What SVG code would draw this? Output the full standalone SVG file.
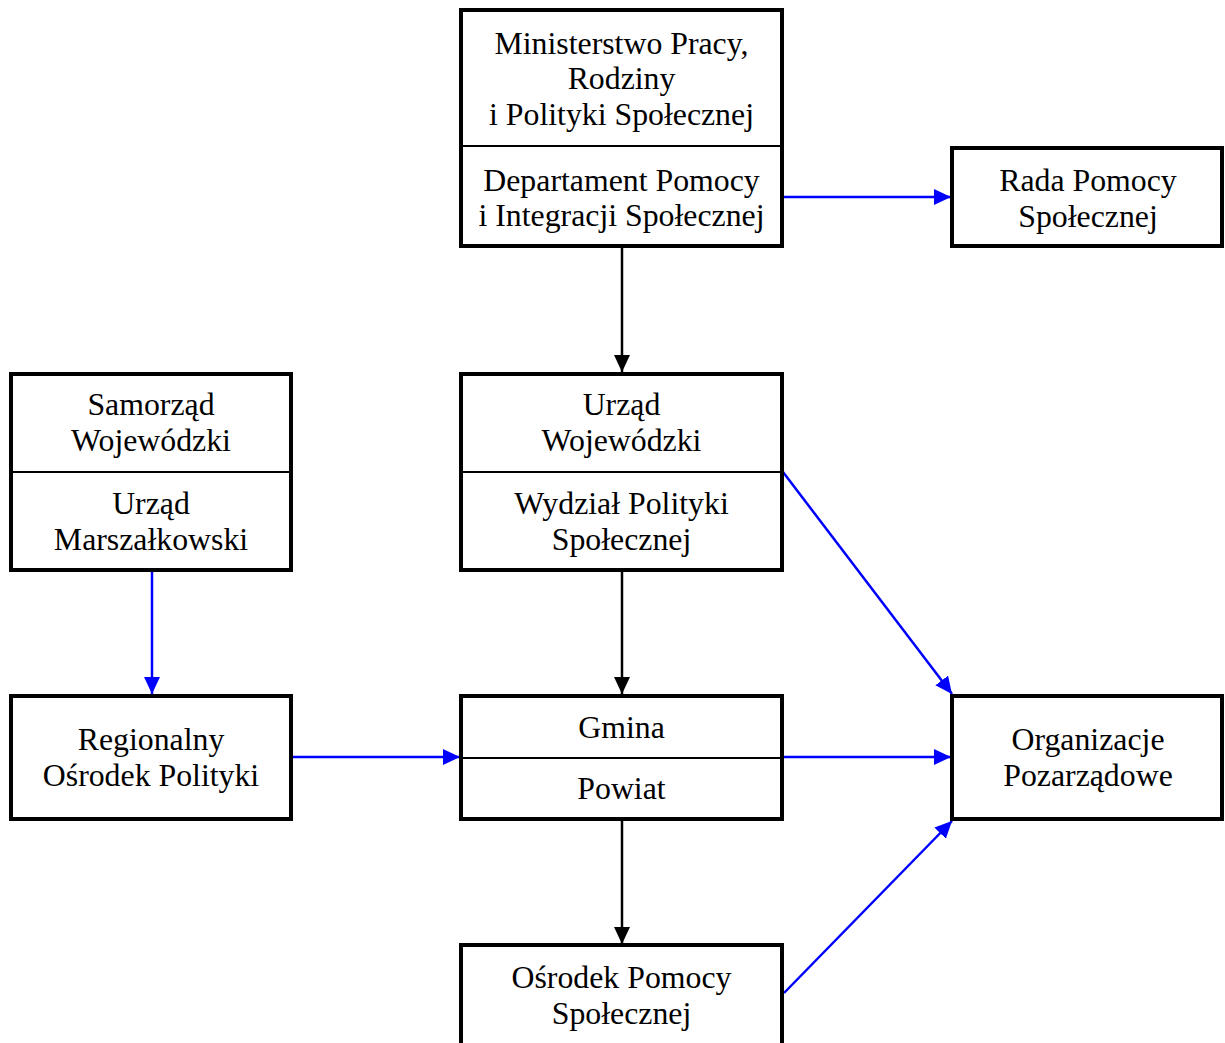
<svg xmlns="http://www.w3.org/2000/svg" width="1225" height="1043" viewBox="0 0 1225 1043">
<style>
.box{fill:#fff;stroke:#000;stroke-width:4}
.div{stroke:#000;stroke-width:2}
.t{font-family:"Liberation Serif","Times New Roman",serif;font-size:31.8px;fill:#000;text-anchor:middle}
.ck{stroke:#000;stroke-width:2.5;fill:none}
.cb{stroke:#0000ff;stroke-width:2.5;fill:none}
</style>
<defs>
<marker id="ak" markerUnits="userSpaceOnUse" markerWidth="18" markerHeight="16" viewBox="0 0 18 16" refX="17" refY="8" orient="auto">
<path d="M0,0 L17,8 L0,16 Z" fill="#000"/>
</marker>
<marker id="ab" markerUnits="userSpaceOnUse" markerWidth="18" markerHeight="16" viewBox="0 0 18 16" refX="17" refY="8" orient="auto">
<path d="M0,0 L17,8 L0,16 Z" fill="#0000ff"/>
</marker>
</defs>
<rect width="1225" height="1043" fill="#fff"/>
<g id="connectors">
<line class="ck" x1="622" y1="248" x2="622" y2="372" marker-end="url(#ak)"/>
<line class="ck" x1="622" y1="572" x2="622" y2="694" marker-end="url(#ak)"/>
<line class="ck" x1="622" y1="821" x2="622" y2="944" marker-end="url(#ak)"/>
<line class="cb" x1="784" y1="197" x2="951" y2="197" marker-end="url(#ab)"/>
<line class="cb" x1="783" y1="472" x2="952" y2="694" marker-end="url(#ab)"/>
<line class="cb" x1="152" y1="572" x2="152" y2="694" marker-end="url(#ab)"/>
<line class="cb" x1="292" y1="757" x2="460" y2="757" marker-end="url(#ab)"/>
<line class="cb" x1="784" y1="757" x2="951" y2="757" marker-end="url(#ab)"/>
<line class="cb" x1="784" y1="993" x2="952" y2="821" marker-end="url(#ab)"/>
</g>
<g id="ministerstwo">
<rect class="box" x="461" y="10" width="321" height="236"/>
<line class="div" x1="461" y1="146" x2="782" y2="146"/>
<text class="t" x="621.5" y="54">Ministerstwo Pracy,</text>
<text class="t" x="621.5" y="89">Rodziny</text>
<text class="t" x="621.5" y="125">i Polityki Społecznej</text>
<text class="t" x="621.5" y="191">Departament Pomocy</text>
<text class="t" x="621.5" y="226">i Integracji Społecznej</text>
</g>
<g id="rada">
<rect class="box" x="952" y="148" width="270" height="98"/>
<text class="t" x="1088" y="191">Rada Pomocy</text>
<text class="t" x="1088" y="227">Społecznej</text>
</g>
<g id="samorzad">
<rect class="box" x="11" y="374" width="280" height="196"/>
<line class="div" x1="11" y1="472" x2="291" y2="472"/>
<text class="t" x="151" y="415">Samorząd</text>
<text class="t" x="151" y="451">Wojewódzki</text>
<text class="t" x="151" y="514">Urząd</text>
<text class="t" x="151" y="550">Marszałkowski</text>
</g>
<g id="urzad-wojewodzki">
<rect class="box" x="461" y="374" width="321" height="196"/>
<line class="div" x1="461" y1="472" x2="782" y2="472"/>
<text class="t" x="621.5" y="415">Urząd</text>
<text class="t" x="621.5" y="451">Wojewódzki</text>
<text class="t" x="621.5" y="514">Wydział Polityki</text>
<text class="t" x="621.5" y="550">Społecznej</text>
</g>
<g id="regionalny">
<rect class="box" x="11" y="696" width="280" height="123"/>
<text class="t" x="151" y="750">Regionalny</text>
<text class="t" x="151" y="786">Ośrodek Polityki</text>
</g>
<g id="gmina-powiat">
<rect class="box" x="461" y="696" width="321" height="123"/>
<line class="div" x1="461" y1="758" x2="782" y2="758"/>
<text class="t" x="621.5" y="738">Gmina</text>
<text class="t" x="621.5" y="799">Powiat</text>
</g>
<g id="organizacje">
<rect class="box" x="952" y="696" width="270" height="123"/>
<text class="t" x="1088" y="750">Organizacje</text>
<text class="t" x="1088" y="786">Pozarządowe</text>
</g>
<g id="osrodek">
<rect class="box" x="461" y="945" width="321" height="110"/>
<text class="t" x="621.5" y="988">Ośrodek Pomocy</text>
<text class="t" x="621.5" y="1024">Społecznej</text>
</g>
</svg>
